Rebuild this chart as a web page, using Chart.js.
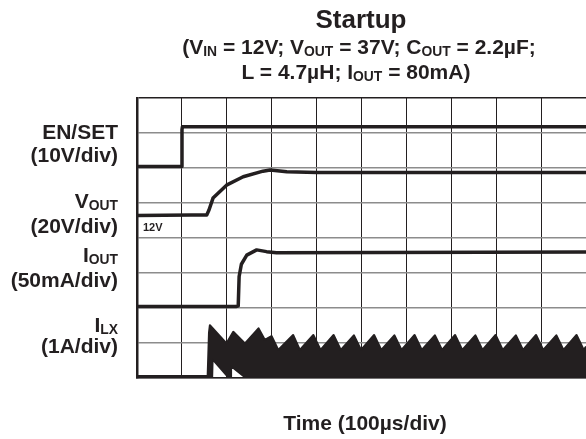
<!DOCTYPE html>
<html>
<head>
<meta charset="utf-8">
<script src="https://cdn.jsdelivr.net/npm/chart.js@4.4.1/dist/chart.umd.min.js"></script>
<style>
  body { margin: 0; background: #fff; }
  #wrap {
    position: relative; width: 586px; height: 439px; overflow: hidden;
    font-family: "Liberation Sans", Arial, sans-serif; font-weight: bold; color: #231f20;
  }
  #myChart { position: absolute; left: 0; top: 0; }
  .t { position: absolute; white-space: nowrap; line-height: 1; }
  .c { transform: translateX(-50%); }
  .r { right: 468px; text-align: right; }
  .sub { font-size: 0.66em; position: relative; top: 0.12em; }
</style>
</head>
<body>
<div id="wrap">
  <canvas id="myChart" width="586" height="439"></canvas>

  <div class="t c" style="left:361px;top:6px;font-size:26px">Startup</div>
  <div class="t c" style="left:359px;top:36px;font-size:21px">(V<span class="sub">IN</span> = 12V; V<span class="sub">OUT</span> = 37V; C<span class="sub">OUT</span> = 2.2µF;</div>
  <div class="t c" style="left:356px;top:61px;font-size:21px">L = 4.7µH; I<span class="sub">OUT</span> = 80mA)</div>

  <div class="t r" style="top:121px;font-size:21px">EN/SET</div>
  <div class="t r" style="top:144px;font-size:21px">(10V/div)</div>
  <div class="t r" style="top:190px;font-size:21px">V<span class="sub">OUT</span></div>
  <div class="t r" style="top:215px;font-size:21px">(20V/div)</div>
  <div class="t r" style="top:244px;font-size:21px">I<span class="sub">OUT</span></div>
  <div class="t r" style="top:269px;font-size:21px">(50mA/div)</div>
  <div class="t r" style="top:314px;font-size:21px">I<span class="sub">LX</span></div>
  <div class="t r" style="top:335px;font-size:21px">(1A/div)</div>

  <div class="t" style="left:143px;top:222px;font-size:11px">12V</div>
  <div class="t c" style="left:365px;top:412px;font-size:21px">Time (100µs/div)</div>
</div>
<script>
// scope grid: 10 horizontal divisions (100us each), 8 vertical divisions
const gridX = [0, 1, 2, 3, 4, 5, 6, 7, 8, 9];
const gridY = [0, 1, 2, 3, 4, 5, 6, 7, 8];

// EN/SET trace (divisions)
const enX = [0, 0.99, 1.0, 1.01, 9.98];
const enY = [6.04, 6.04, 7.1, 7.18, 7.18];

// VOUT trace
const voutX = [0, 1.2, 1.55, 1.6, 1.69, 1.99, 2.36, 2.8, 2.96, 3.33, 4.0, 9.98];
const voutY = [4.64, 4.66, 4.66, 4.8, 5.14, 5.51, 5.75, 5.91, 5.94, 5.89, 5.87, 5.87];

// IOUT trace
const ioutX = [0, 2.2, 2.25, 2.27, 2.32, 2.44, 2.66, 2.88, 3.1, 9.98];
const ioutY = [2.04, 2.04, 2.06, 2.9, 3.25, 3.51, 3.66, 3.61, 3.58, 3.6];

// ILX switching waveform: upper envelope (peaks / valleys)
const ilxX = [0, 1.57, 1.6, 1.62, 1.99, 2.14, 2.4, 2.7, 2.84, 2.99, 3.14, 3.47, 3.62,
  3.92, 4.08, 4.37, 4.53, 4.82, 4.98, 5.27, 5.43, 5.72, 5.88, 6.17, 6.33, 6.62, 6.78,
  7.07, 7.23, 7.52, 7.68, 7.97, 8.13, 8.42, 8.58, 8.87, 9.03, 9.32, 9.48, 9.77, 9.93, 9.98];
const ilxY = [0.04, 0.04, 1.3, 1.51, 0.99, 1.32, 0.99, 1.42, 1.09, 1.2, 0.8, 1.23, 0.8,
  1.23, 0.8, 1.23, 0.8, 1.22, 0.8, 1.23, 0.8, 1.22, 0.8, 1.23, 0.8, 1.22, 0.8,
  1.23, 0.8, 1.22, 0.8, 1.23, 0.8, 1.22, 0.8, 1.23, 0.8, 1.22, 0.8, 1.23, 0.8, 0.9];

// ILX lower envelope (minimum current)
const ilxLowX = [0, 1.58, 1.66, 1.67, 2.03, 2.07, 2.08, 2.4, 2.45, 9.98];
const ilxLowY = [0.04, 0.04, 0.04, 0.57, 0.04, 0.04, 0.37, 0.04, 0.04, 0.04];

const ink = "#231f20";

function pts(xs, ys) {
  return xs.map((x, i) => ({ x: x, y: ys[i] }));
}

function trace(label, xs, ys) {
  return {
    label: label,
    data: pts(xs, ys),
    borderColor: ink,
    borderWidth: 3.5,
    borderJoinStyle: "round",
    pointRadius: 0,
    tension: 0,
    fill: false,
  };
}

const datasets = [
  trace("EN/SET", enX, enY),
  trace("VOUT", voutX, voutY),
  trace("IOUT", ioutX, ioutY),
  Object.assign(trace("ILX", ilxX, ilxY), { fill: "+1", backgroundColor: ink, borderWidth: 2 }),
  Object.assign(trace("ILX min", ilxLowX, ilxLowY), { borderWidth: 3 }),
];

new Chart(document.getElementById("myChart"), {
  type: "line",
  data: { datasets: datasets },
  options: {
    responsive: false,
    animation: false,
    layout: { padding: { left: 137, top: 98, right: 0, bottom: 61 } },
    plugins: { legend: { display: false }, tooltip: { enabled: false } },
    scales: {
      x: {
        type: "linear",
        min: 0,
        max: 9.98,
        afterBuildTicks: (s) => { s.ticks = gridX.map((v) => ({ value: v })); },
        afterFit: (s) => { s.height = 0; },
        ticks: { display: false },
        grid: { color: ink, lineWidth: 1, drawTicks: false },
        border: { display: true, color: ink, width: 1.5 },
      },
      y: {
        type: "linear",
        min: 0,
        max: 8,
        afterBuildTicks: (s) => { s.ticks = gridY.map((v) => ({ value: v })); },
        afterFit: (s) => { s.width = 0; },
        ticks: { display: false },
        grid: {
          color: (c) => (c.tick && c.tick.value === 8 ? ink : "#8c8c8c"),
          lineWidth: 1.5,
          drawTicks: false,
        },
        border: { display: true, color: ink, width: 2.5 },
      },
    },
  },
});
</script>
</body>
</html>
